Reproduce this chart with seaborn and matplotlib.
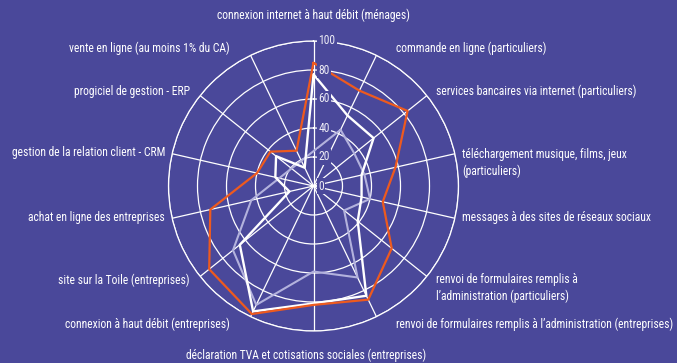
import numpy as np
import pandas as pd
import matplotlib
matplotlib.use("Agg")
import matplotlib.pyplot as plt
from matplotlib import font_manager as fm
import seaborn as sns

# ---------------- data ----------------
categories = [
    "connexion internet à haut débit (ménages)",
    "commande en ligne (particuliers)",
    "services bancaires via internet (particuliers)",
    "téléchargement musique, films, jeux\n(particuliers)",
    "messages à des sites de réseaux sociaux",
    "renvoi de formulaires remplis à\nl’administration (particuliers)",
    "renvoi de formulaires remplis à l’administration (entreprises)",
    "déclaration TVA et cotisations sociales (entreprises)",
    "connexion à haut débit (entreprises)",
    "site sur la Toile (entreprises)",
    "achat en ligne des entreprises",
    "gestion de la relation client - CRM",
    "progiciel de gestion - ERP",
    "vente en ligne (au moins 1% du CA)",
]
orange_vals = [85, 73, 83, 58, 49, 69, 87, 82, 98, 92, 73, 40, 38, 27]
white_vals = [77, 54, 53, 34, 34, 39, 84, 81, 96, 65, 17, 27, 33, 14]
lavender_vals = [None, 43, 36, 36, 40, 27, 70, 59, 91, 71, 44, None, None, None]
tick_values = [0, 20, 40, 60, 80, 100]

# ---------------- style ----------------
BG = "#4a489a"
ORANGE = "#ee5a1e"
WHITE = "#ffffff"
LAVENDER = "#b3b2dd"

sns.set_style("white")


def pick_font():
    for fam in ["Roboto Condensed", "Liberation Sans Narrow",
                "Open Sans Condensed", "Noto Sans Condensed"]:
        try:
            fm.findfont(fm.FontProperties(family=fam), fallback_to_default=False)
            return fam, "normal"
        except Exception:
            pass
    for fam in ["Noto Sans", "DejaVu Sans", "Open Sans"]:
        try:
            p = fm.findfont(fm.FontProperties(family=fam, stretch="condensed"),
                            fallback_to_default=False)
            if "ondensed" in p or "arrow" in p:
                return fam, "condensed"
        except Exception:
            pass
    return "Roboto", "normal"


FAM, STRETCH = pick_font()
plt.rcParams["font.family"] = [FAM, "DejaVu Sans"]
plt.rcParams["font.stretch"] = STRETCH

W, H = 677, 363
fig = plt.figure(figsize=(W / 100, H / 100), dpi=100, facecolor=BG)
renderer = fig.canvas.get_renderer()


def fit_size(sample, target_px, base=10.0, lo=7.6, hi=11.0):
    t = fig.text(0, 0, sample, fontsize=base, fontstretch=STRETCH)
    w = t.get_window_extent(renderer).width
    t.remove()
    return float(np.clip(base * target_px / w, lo, hi))


LAB_FS = fit_size("renvoi de formulaires remplis à l’administration (entreprises)", 276)
TICK_FS = fit_size("100", 17, lo=8.0)

cx, cy, R = 313.5, 186.0, 145.0
ax = fig.add_axes([(cx - R) / W, (H - cy - R) / H, 2 * R / W, 2 * R / H],
                  projection="polar")
ax.set_facecolor(BG)
ax.set_theta_zero_location("N")
ax.set_theta_direction(-1)

n = len(categories)
angles = np.arange(n) * 2 * np.pi / n

ax.set_xticks(angles)
ax.set_xticklabels([])
ax.set_yticks(tick_values[1:])
ax.set_yticklabels([])
ax.set_ylim(0, 100)
ax.grid(True, color="white", linewidth=0.9)
ax.spines["polar"].set_color("white")
ax.spines["polar"].set_linewidth(0.9)


def closed(vals, name):
    th = [a for a, v in zip(angles, vals) if v is not None]
    vv = [v for v in vals if v is not None]
    th = th + [th[0] + 2 * np.pi]
    vv = vv + [vv[0]]
    return pd.DataFrame({"theta": th, "value": vv, "series": name})


df = pd.concat([closed(lavender_vals, "lav"),
                closed(white_vals, "white"),
                closed(orange_vals, "orange")], ignore_index=True)

palette = {"lav": LAVENDER, "white": WHITE, "orange": ORANGE}
for name, lw, z in [("lav", 1.5, 3), ("white", 1.7, 4), ("orange", 1.6, 5)]:
    sub = df[df["series"] == name]
    sns.lineplot(data=sub, x="theta", y="value", color=palette[name],
                 sort=False, estimator=None, ax=ax, linewidth=lw, zorder=z,
                 legend=False)
ax.set_xlabel("")
ax.set_ylabel("")
ax.set_ylim(0, 100)

# radial tick labels
for v in tick_values:
    ax.annotate(str(v), xy=(0, v), xytext=(3.5, 0), textcoords="offset points",
                ha="left", va="center", color="#ecebf5", fontsize=TICK_FS,
                bbox=dict(boxstyle="square,pad=0.12", fc=BG, ec="none"),
                zorder=10, annotation_clip=False)

# category labels (pixel positions, top-left origin)
label_pos = [
    (313, 15, "center"),
    (396, 48, "left"),
    (436, 91, "left"),
    (462, 163, "left"),
    (462, 218, "left"),
    (436, 288, "left"),
    (396, 324, "left"),
    (306, 355, "center"),
    (230, 324, "right"),
    (190, 280, "right"),
    (165, 218, "right"),
    (165, 153, "right"),
    (190, 91, "right"),
    (230, 48, "right"),
]
for lab, (px, py, ha) in zip(categories, label_pos):
    fig.text(px / W, 1 - py / H, lab, ha=ha, va="center", color="white",
             fontsize=LAB_FS, linespacing=1.3)

fig.savefig("out.png", dpi=100, facecolor=BG)
